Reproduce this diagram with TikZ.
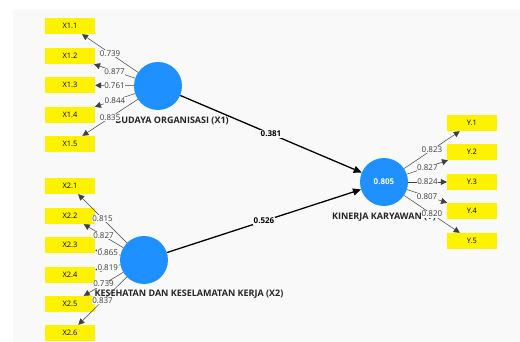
\documentclass[tikz,border=0pt]{standalone}
\usepackage{fontspec}
\setmainfont{Open Sans}
\usetikzlibrary{arrows.meta}
\definecolor{lvblue}{RGB}{30,144,255}
\definecolor{canvas}{RGB}{249,249,249}
\definecolor{loadgrey}{RGB}{60,60,60}

\begin{document}
\begin{tikzpicture}[x=1pt,y=-1pt,
  lv/.style={circle,fill=lvblue,minimum size=48pt,inner sep=0pt},
  mv/.style={rectangle,fill=yellow,minimum width=50pt,minimum height=16pt,inner sep=0pt,font=\fontsize{7.5}{8}\selectfont},
  lvname/.style={font=\bfseries\fontsize{9}{10}\selectfont,text=black!85},
  loading/.style={-{Triangle[length=6pt,width=6pt]},draw=black!75,line width=0.5pt},
  loadval/.style={fill=canvas,inner sep=0.6pt,font=\fontsize{8}{9}\selectfont,text=loadgrey},
  struct/.style={-{Triangle[length=8pt,width=7pt]},line width=1.3pt},
  structval/.style={fill=canvas,inner sep=1pt,font=\bfseries\fontsize{8}{9}\selectfont}]
\useasboundingbox (0,0) rectangle (520,342);
\fill[canvas] (13,9) rectangle (520,342);

% latent variables
\node (X1) at (158,86) [lv] {};
\node (X2) at (144,260) [lv] {};
\node (Y) at (384,182) [lv,text=white,font=\bfseries\fontsize{8}{9}\selectfont] {0.805};
\node (lX1) at (172,121) [lvname] {BUDAYA ORGANISASI (X1)};
\node (lX2) at (189,294) [lvname] {KESEHATAN DAN KESELAMATAN KERJA (X2)};
\node (lY) at (384,217) [lvname] {KINERJA KARYAWAN (Y)};

% indicators
\node (X11) at (70,26) [mv] {X1.1};
\node (X12) at (70,56) [mv] {X1.2};
\node (X13) at (70,85) [mv] {X1.3};
\node (X14) at (70,115) [mv] {X1.4};
\node (X15) at (70,144) [mv] {X1.5};
\node (X21) at (70,186) [mv] {X2.1};
\node (X22) at (70,216) [mv] {X2.2};
\node (X23) at (70,245) [mv] {X2.3};
\node (X24) at (70,275) [mv] {X2.4};
\node (X25) at (70,304) [mv] {X2.5};
\node (X26) at (70,333) [mv] {X2.6};
\node (Y1) at (472,123) [mv] {Y.1};
\node (Y2) at (472,152) [mv] {Y.2};
\node (Y3) at (472,182) [mv] {Y.3};
\node (Y4) at (472,211) [mv] {Y.4};
\node (Y5) at (472,241) [mv] {Y.5};

\draw [loading] (X1) -- node[loadval] {0.739} (X11);
\draw [loading] (X1) -- node[loadval] {0.877} (X12);
\draw [loading] (X1) -- node[loadval] {0.761} (X13);
\draw [loading] (X1) -- node[loadval] {0.844} (X14);
\draw [loading] (X1) -- node[loadval] {0.835} (X15);

\draw [loading] (X2) -- node[loadval] {0.815} (X21);
\draw [loading] (X2) -- node[loadval] {0.827} (X22);
\draw [loading] (X2) -- node[loadval] {0.865} (X23);
\draw [loading] (X2) -- node[loadval] {0.819} (X24);
\draw [loading] (X2) -- node[loadval] {0.739} (X25);
\draw [loading] (X2) -- node[loadval] {0.837} (X26);

\draw [loading] (Y) -- node[loadval] {0.823} (Y1);
\draw [loading] (Y) -- node[loadval] {0.827} (Y2);
\draw [loading] (Y) -- node[loadval] {0.824} (Y3);
\draw [loading] (Y) -- node[loadval] {0.807} (Y4);
\draw [loading] (Y) -- node[loadval] {0.820} (Y5);

\draw [struct] (X1) -- node[structval] {0.381} (Y);
\draw [struct] (X2) -- node[structval] {0.526} (Y);
\end{tikzpicture}
\end{document}
